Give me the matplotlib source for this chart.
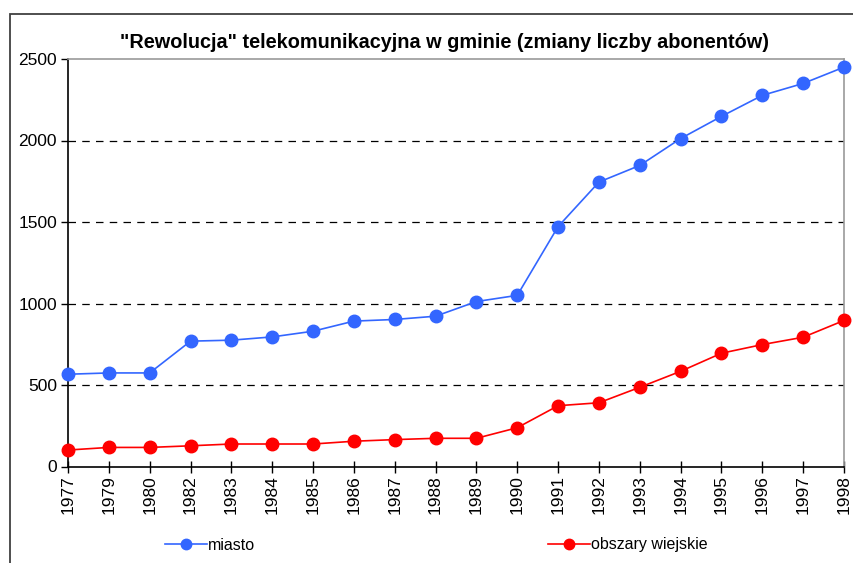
import matplotlib.pyplot as plt
from matplotlib.lines import Line2D
from matplotlib.patches import Rectangle

# data
years = ['1977', '1979', '1980', '1982', '1983', '1984', '1985', '1986', '1987', '1988',
         '1989', '1990', '1991', '1992', '1993', '1994', '1995', '1996', '1997', '1998']
miasto = [566, 574, 574, 769, 775, 795, 830, 892, 902, 922,
          1012, 1050, 1472, 1745, 1847, 2012, 2148, 2277, 2350, 2450]
wies = [101, 117, 117, 127, 138, 138, 138, 155, 165, 173,
        173, 238, 373, 391, 486, 584, 695, 748, 793, 896]

title = '"Rewolucja" telekomunikacyjna w gminie (zmiany liczby abonentów)'
blue = '#3366ff'
red = '#ff0000'

plt.rcParams['font.family'] = ['Liberation Sans', 'DejaVu Sans']

W, H = 854, 563
fig = plt.figure(figsize=(W / 100, H / 100), dpi=100)

# outer chart frame (runs off the right and bottom edge)
fig.patches.append(Rectangle((10 / W, -0.1), 1.2, (H - 14) / H + 0.1,
                             transform=fig.transFigure, fill=False,
                             edgecolor='#404040', linewidth=1.3))

ax = fig.add_axes([68 / W, (H - 466.5) / H, (844 - 68) / W, (466.5 - 59) / H])

pos = list(range(len(years)))
ax.plot(pos, miasto, color=blue, linewidth=1.2, marker='o', markersize=9,
        clip_on=False, zorder=3)
ax.plot(pos, wies, color=red, linewidth=1.2, marker='o', markersize=9,
        clip_on=False, zorder=3)

ax.set_xlim(0, len(years) - 1)
ax.set_ylim(0, 2500)
ax.set_yticks([0, 500, 1000, 1500, 2000, 2500])
ax.set_xticks(pos)
ax.set_xticklabels(years, rotation=90)

for y in [500, 1000, 1500, 2000]:
    ax.axhline(y, color='black', linewidth=0.9, dashes=(6, 5), zorder=1)

ax.spines['left'].set_color('black')
ax.spines['bottom'].set_color('black')
ax.spines['top'].set_color('#999999')
ax.spines['right'].set_color('#999999')
for s in ax.spines.values():
    s.set_linewidth(1.2)

ax.tick_params(axis='y', direction='out', length=5, width=1, labelsize=12.5, pad=3)
ax.tick_params(axis='x', direction='inout', length=8, width=1, labelsize=12.5, pad=2)

fig.text(445 / W, 1 - 42 / H, title, ha='center', va='center',
         fontsize=14.3, fontweight='bold')

h1 = Line2D([], [], color=blue, linewidth=1.2, marker='o', markersize=7.5)
h2 = Line2D([], [], color=red, linewidth=1.2, marker='o', markersize=7.5)
fig.legend([h1], ['miasto'], loc='center left', bbox_to_anchor=(165 / W, 1 - 545 / H),
           frameon=False, fontsize=11.5, handlelength=2.6, handletextpad=0.1,
           borderaxespad=0, borderpad=0)
fig.legend([h2], ['obszary wiejskie'], loc='center left',
           bbox_to_anchor=(548 / W, 1 - 545 / H),
           frameon=False, fontsize=11.5, handlelength=2.6, handletextpad=0.1,
           borderaxespad=0, borderpad=0)

fig.savefig('out.png', dpi=100)
